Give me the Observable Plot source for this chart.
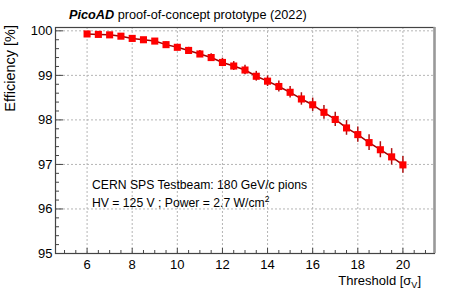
<!DOCTYPE html>
<html><head><meta charset="utf-8">
<script src="https://cdn.jsdelivr.net/npm/d3@7"></script>
<script src="https://cdn.jsdelivr.net/npm/@observablehq/plot@0.6"></script>
<style>body{margin:0;background:#fff} svg{display:block}</style>
</head><body><div id="chart"></div>
<script>
const thresholds = [6,6.5,7,7.5,8,8.5,9,9.5,10,10.5,11,11.5,12,12.5,13,13.5,14,14.5,15,15.5,16,16.5,17,17.5,18,18.5,19,19.5,20];
const efficiency = [99.93,99.92,99.91,99.88,99.83,99.80,99.77,99.69,99.63,99.56,99.48,99.40,99.29,99.21,99.12,98.98,98.87,98.75,98.62,98.47,98.34,98.17,98.01,97.82,97.67,97.49,97.33,97.17,96.99];
const errors = [0.03,0.03,0.035,0.04,0.045,0.05,0.055,0.06,0.065,0.07,0.08,0.085,0.095,0.10,0.105,0.11,0.12,0.125,0.13,0.14,0.15,0.155,0.16,0.165,0.17,0.175,0.18,0.185,0.19];
const xTicks = [6,8,10,12,14,16,18,20];
const xMinorTicks = [5,5.5,6.5,7,7.5,8.5,9,9.5,10.5,11,11.5,12.5,13,13.5,14.5,15,15.5,16.5,17,17.5,18.5,19,19.5,20.5,21];
const yTicks = [95,96,97,98,99,100];
const yMinorTicks = [95.2,95.4,95.6,95.8,96.2,96.4,96.6,96.8,97.2,97.4,97.6,97.8,98.2,98.4,98.6,98.8,99.2,99.4,99.6,99.8];
const titleBold = "PicoAD";
const titleRest = " proof-of-concept prototype (2022)";
const yTitle = "Efficiency [%]";
const xTitle = "Threshold [σ";
const xTitleSub = "V";
const note1 = "CERN SPS Testbeam: 180 GeV/c pions";
const note2 = "HV = 125 V ; Power = 2.7 W/cm";
const note2Sup = "2";

const data = thresholds.map((x, i) => ({x, y: efficiency[i], e: errors[i]}));
const xDomain = [4.6, 21.4];
const yDomain = [95, 100.075];
const font = "'Liberation Sans', Arial, Helvetica, sans-serif";

const plot = Plot.plot({
  width: 458, height: 293,
  marginLeft: 55, marginRight: 24, marginTop: 27, marginBottom: 40,
  style: {fontFamily: font, fontSize: "13px", color: "#000", background: "#fff"},
  x: {domain: xDomain, label: null},
  y: {domain: yDomain, label: null},
  marks: [
    Plot.gridX(xTicks, {stroke: "#b5b5b5", strokeOpacity: 1, strokeDasharray: "2,2"}),
    Plot.gridY(yTicks, {stroke: "#b5b5b5", strokeOpacity: 1, strokeDasharray: "2,2"}),
    Plot.axisX(xMinorTicks, {tickSize: -3, text: null, stroke: "#444"}),
    Plot.axisX(xTicks, {tickSize: -5, tickPadding: 11, stroke: "#444", fontSize: 13, tickFormat: d => String(d)}),
    Plot.axisY(yMinorTicks, {tickSize: -4, text: null, stroke: "#444"}),
    Plot.axisY(yTicks, {tickSize: -8, tickPadding: 11, stroke: "#444", fontSize: 13, tickFormat: d => String(d)}),
    Plot.frame({stroke: "#444", strokeWidth: 1.2}),
    Plot.ruleX([xDomain[1]], {stroke: "#999", strokeWidth: 2.5}),
    Plot.line(data, {x: "x", y: "y", stroke: "#a00000", strokeWidth: 1.5}),
    Plot.ruleX(data, {x: "x", y1: d => d.y - d.e, y2: d => d.y + d.e, stroke: "#b01010", strokeWidth: 1.5}),
    Plot.dot(data, {x: "x", y: "y", symbol: "square", r: 4, fill: "#ff0000", stroke: "none"})
  ]
});
document.getElementById("chart").appendChild(plot);

const svg = d3.select(plot);
const addText = (x, y, size) => svg.append("text").attr("x", x).attr("y", y)
  .attr("text-anchor", "start")
  .attr("font-family", font).attr("font-size", size).attr("fill", "#000");

const t = addText(69, 19, 12.7);
t.append("tspan").attr("font-weight", "bold").attr("font-style", "italic").text(titleBold);
t.append("tspan").text(titleRest);

const xt = addText(421, 285, 13).attr("text-anchor", "end");
xt.append("tspan").text(xTitle);
xt.append("tspan").attr("font-size", 9).attr("dy", 3).text(xTitleSub);
xt.append("tspan").attr("dy", -3).text("]");

svg.append("text").attr("transform", "translate(15,25) rotate(-90)")
  .attr("text-anchor", "end").attr("font-family", font).attr("font-size", 14.5).text(yTitle);

addText(92, 188.5, 12.2).text(note1);
const n2 = addText(92, 206.5, 12.2);
n2.append("tspan").text(note2);
n2.append("tspan").attr("font-size", 8.5).attr("dy", -5).text(note2Sup);
</script></body></html>
